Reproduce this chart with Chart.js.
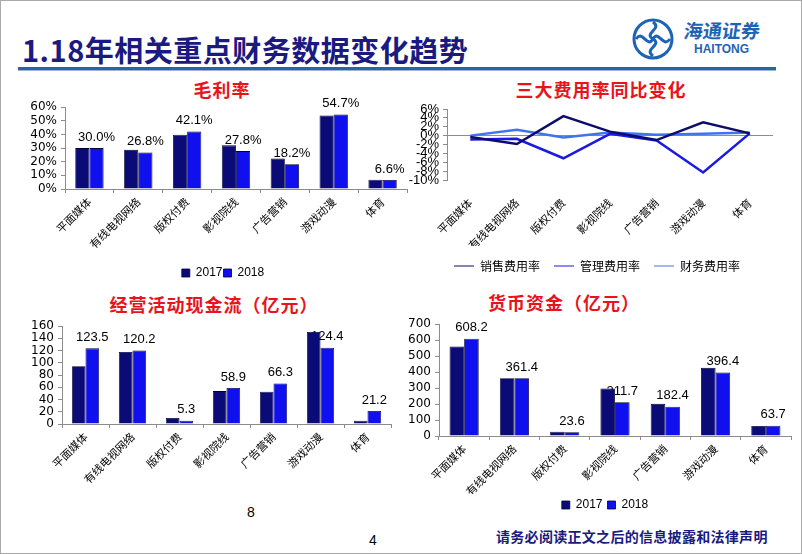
<!DOCTYPE html>
<html>
<head>
<meta charset="utf-8">
<script src="https://cdn.jsdelivr.net/npm/chart.js@4.4.0/dist/chart.umd.min.js"></script>
<style>
  html, body { margin: 0; padding: 0; background: #fff; }
  #slide { position: relative; width: 802px; height: 554px; overflow: hidden; box-sizing: border-box; border: 1px solid #aaa; }
  canvas { position: absolute; }
  .txt { position: absolute; white-space: nowrap; line-height: 1; }
  .head { left: 21px; top: 27px; font: bold 29px "Noto Sans CJK SC", sans-serif; color: #1a1a80; letter-spacing: 0.5px; }
  .ctitle { font: bold 18px "Noto Sans CJK SC", sans-serif; color: #e8141c; letter-spacing: 1px; transform: translateX(-50%); }
  .rule { position: absolute; left: 17px; top: 66px; width: 758px; height: 3px; background: #2a64a8; border-bottom: 1px solid #9bb7d8; }
  .foot { left: 495px; top: 525px; font: bold 14px "Noto Sans CJK SC", sans-serif; color: #1a1a80; letter-spacing: 0.3px; }
  .num { font: 14px "Liberation Sans", Arial, sans-serif; color: #000; }
</style>
</head>
<body>
<div id="slide">
  <div class="txt head">1.18年相关重点财务数据变化趋势</div>
  <svg style="position:absolute;left:630px;top:16px" width="150" height="46">
    <circle cx="22" cy="22" r="19" fill="none" stroke="#1e64b4" stroke-width="3"/>
    <path d="M22 5 C 32 12, 12 16, 22 22 C 32 28, 12 32, 22 39" fill="none" stroke="#1e64b4" stroke-width="3"/>
    <path d="M5 22 C 12 12, 16 32, 22 22 C 28 12, 32 32, 39 22" fill="none" stroke="#1e64b4" stroke-width="3"/>
    <text x="52" y="21" font-family="Noto Sans CJK SC" font-size="19" font-weight="bold" fill="#1e64b4" transform="skewX(-8) translate(3 0)">海通证券</text>
    <text x="63" y="36" font-family="Liberation Sans" font-size="12" font-weight="bold" fill="#1e64b4">HAITONG</text>
  </svg>
  <div class="rule"></div>

  <div class="txt ctitle" style="left:221px;top:75px">毛利率</div>
  <div class="txt ctitle" style="left:600px;top:75px">三大费用率同比变化</div>
  <div class="txt ctitle" style="left:213px;top:290px">经营活动现金流（亿元）</div>
  <div class="txt ctitle" style="left:563px;top:288px">货币资金（亿元）</div>

  <canvas id="c1" width="392" height="193" style="left:20px;top:95px"></canvas>
  <canvas id="c2" width="402" height="186" style="left:400px;top:95px"></canvas>
  <canvas id="c3" width="380" height="188" style="left:20px;top:312px"></canvas>
  <canvas id="c4" width="402" height="210" style="left:400px;top:310px"></canvas>

  <div class="txt num" style="left:246px;top:503px">8</div>
  <div class="txt num" style="left:368px;top:531px">4</div>
  <div class="txt foot">请务必阅读正文之后的信息披露和法律声明</div>
</div>

<script>
// categories shared by all four panels
const sectors = ['平面媒体', '有线电视网络', '版权付费', '影视院线', '广告营销', '游戏动漫', '体育'];
const years = ['2017', '2018'];

// 毛利率 (%)
const gross2017 = [30.0, 28.7, 39.8, 32.0, 22.4, 53.9, 6.8];
const gross2018 = [30.0, 26.8, 42.1, 27.8, 18.2, 54.7, 6.6];

// 三大费用率同比变化 (pct points)
const salesRate = [-0.3, -1.9, 4.4, 0.9, -1.0, 3.0, 0.5];
const adminRate = [-0.9, -0.7, -5.1, 0.4, -1.1, -8.3, 0.5];
const financeRate = [0.0, 1.3, -0.4, 0.7, 0.2, 0.4, 0.7];
const rateNames = ['销售费用率', '管理费用率', '财务费用率'];

// 经营活动现金流 (亿元)
const cash2017 = [94.4, 117.7, 9.8, 53.7, 52.6, 150.2, 5.4];
const cash2018 = [123.5, 120.2, 5.3, 58.9, 66.3, 124.4, 21.2];

// 货币资金 (亿元)
const money2017 = [560, 361, 27, 297, 201, 426, 63];
const money2018 = [608.2, 361.4, 23.6, 211.7, 182.4, 396.4, 63.7];

const NAVY = '#0b0b78';
const BLUE = '#1010ee';
const AXIS = '#8c8c8c';

Chart.defaults.color = '#000';
Chart.defaults.font.family = '"Liberation Sans", Arial, sans-serif';
Chart.defaults.animation = false;

// value labels above the 2018 bars, drawn under the bars like the original
const barLabels = {
  id: 'barLabels',
  beforeDatasetsDraw(chart, args, opts) {
    if (!opts.fmt) return;
    const meta = chart.getDatasetMeta(1);
    const vals = chart.data.datasets[1].data;
    const ctx = chart.ctx;
    ctx.save();
    ctx.font = '13px "Liberation Sans", Arial, sans-serif';
    ctx.fillStyle = '#000';
    ctx.textAlign = 'center';
    ctx.textBaseline = 'middle';
    meta.data.forEach((bar, i) => ctx.fillText(opts.fmt(vals[i]), bar.x, bar.y - 11));
    ctx.restore();
  }
};

// nudge legend sideways
const legendShift = {
  id: 'legendShift',
  afterLayout(chart, args, opts) {
    if (chart.legend && opts.dx) {
      chart.legend.left += opts.dx;
      chart.legend.right += opts.dx;
    }
  }
};

Chart.register(barLabels, legendShift);

function catAxis(h) {
  return {
    offset: true,
    border: { color: AXIS },
    grid: { drawOnChartArea: false, color: AXIS, tickLength: 4, offset: true },
    ticks: { minRotation: 45, maxRotation: 45, autoSkip: false, padding: 2,
             font: { family: '"Noto Sans CJK SC", sans-serif', size: 11 } },
    afterFit: s => { s.height = h; }
  };
}

function valAxis(w, max, step, fmt) {
  return {
    min: 0, max: max,
    border: { color: AXIS },
    grid: { drawOnChartArea: false, color: AXIS, tickLength: 4 },
    ticks: { stepSize: step, autoSkip: false, padding: 4,
             font: { family: '"DejaVu Sans", sans-serif', size: 12 }, callback: fmt },
    afterFit: s => { s.width = w; }
  };
}

function barSets(a, b) {
  return [
    { label: years[0], data: a, backgroundColor: NAVY, borderColor: '#00002e', borderWidth: 0.8,
      barPercentage: 1, categoryPercentage: 0.58 },
    { label: years[1], data: b, backgroundColor: BLUE, borderColor: '#00002e', borderWidth: 0.8,
      barPercentage: 1, categoryPercentage: 0.58 }
  ];
}

function barLegend(pad) {
  return {
    display: true, position: 'bottom',
    labels: { boxWidth: 8, boxHeight: 8, padding: pad, font: { size: 12 } }
  };
}

// 毛利率
new Chart(document.getElementById('c1'), {
  type: 'bar',
  data: { labels: sectors, datasets: barSets(gross2017, gross2018) },
  options: {
    responsive: false,
    layout: { padding: { top: 11, right: 6, left: 0, bottom: 0 } },
    scales: { x: catAxis(77), y: valAxis(44, 60, 10, v => v + '%') },
    plugins: {
      legend: barLegend(1),
      legendShift: { dx: 9 },
      tooltip: { enabled: false },
      barLabels: { fmt: v => v.toFixed(1) + '%' }
    }
  }
});

// 三大费用率同比变化
new Chart(document.getElementById('c2'), {
  type: 'line',
  data: {
    labels: sectors,
    datasets: [
      { label: rateNames[0], data: salesRate, borderColor: '#0c0c6b', backgroundColor: '#0c0c6b' },
      { label: rateNames[1], data: adminRate, borderColor: '#1a1ae0', backgroundColor: '#1a1ae0' },
      { label: rateNames[2], data: financeRate, borderColor: '#3f74ee', backgroundColor: '#3f74ee' }
    ]
  },
  options: {
    responsive: false,
    layout: { padding: { top: 13, right: 30, left: 0, bottom: 0 } },
    elements: { line: { borderWidth: 2.5, tension: 0 }, point: { radius: 0 } },
    scales: {
      x: {
        offset: true,
        border: { display: false },
        grid: { display: false },
        ticks: { minRotation: 45, maxRotation: 45, autoSkip: false, padding: 8,
                 font: { family: '"Noto Sans CJK SC", sans-serif', size: 11 } },
        afterFit: s => { s.height = 66; }
      },
      y: {
        min: -10, max: 6,
        border: { color: AXIS },
        grid: { drawOnChartArea: true, tickLength: 4, tickColor: AXIS,
                color: c => (c.tick && c.tick.value === 0 ? AXIS : 'rgba(0,0,0,0)') },
        ticks: { stepSize: 2, autoSkip: false, padding: 4, font: { size: 13 }, callback: v => v + '%' },
        afterFit: s => { s.width = 46; }
      }
    },
    plugins: {
      legend: {
        display: true, position: 'bottom',
        labels: { usePointStyle: true, pointStyle: 'line', pointStyleWidth: 20, padding: 14,
                  font: { family: '"Noto Sans CJK SC", sans-serif', size: 12 } }
      },
      legendShift: { dx: 10 },
      tooltip: { enabled: false }
    }
  }
});

// 经营活动现金流
new Chart(document.getElementById('c3'), {
  type: 'bar',
  data: { labels: sectors, datasets: barSets(cash2017, cash2018) },
  options: {
    responsive: false,
    layout: { padding: { top: 13, right: 10, left: 0, bottom: 0 } },
    scales: { x: catAxis(77), y: valAxis(41, 160, 20) },
    plugins: {
      legend: { display: false },
      tooltip: { enabled: false },
      barLabels: { fmt: v => v.toFixed(1) }
    }
  }
});

// 货币资金
new Chart(document.getElementById('c4'), {
  type: 'bar',
  data: { labels: sectors, datasets: barSets(money2017, money2018) },
  options: {
    responsive: false,
    layout: { padding: { top: 13, right: 12, left: 0, bottom: 0 } },
    scales: { x: catAxis(58), y: valAxis(38, 700, 100) },
    plugins: {
      legend: barLegend(5),
      legendShift: { dx: 9 },
      tooltip: { enabled: false },
      barLabels: { fmt: v => v.toFixed(1) }
    }
  }
});
</script>
</body>
</html>
